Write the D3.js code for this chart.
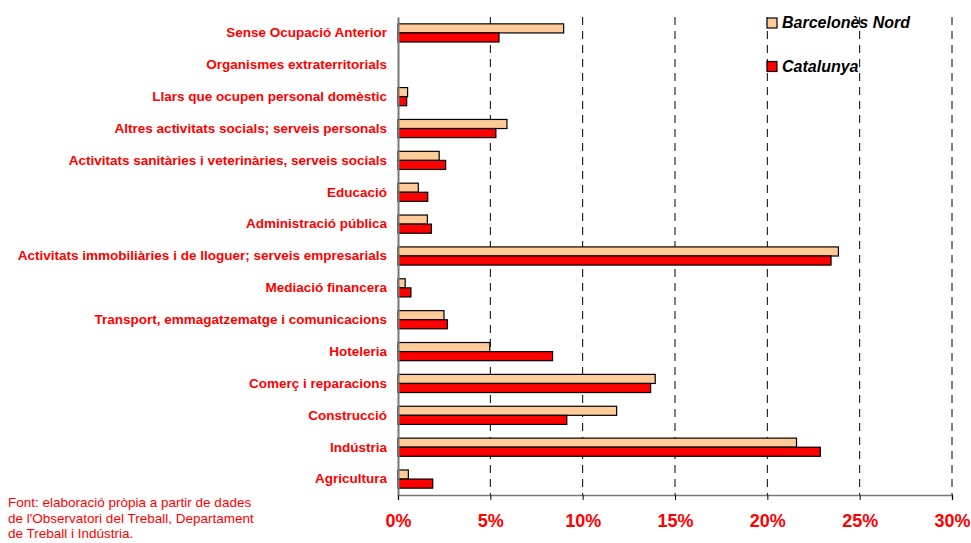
<!DOCTYPE html>
<html>
<head>
<meta charset="utf-8">
<script src="https://cdn.jsdelivr.net/npm/d3@7"></script>
<style>
  body { margin: 0; background: #fff; }
  svg { display: block; font-family: Arial, "Liberation Sans", sans-serif; }
</style>
</head>
<body>
<script>
// categories from top to bottom
var sectors = [
  "Sense Ocupació Anterior",
  "Organismes extraterritorials",
  "Llars que ocupen personal domèstic",
  "Altres activitats socials; serveis personals",
  "Activitats sanitàries i veterinàries, serveis socials",
  "Educació",
  "Administració pública",
  "Activitats immobiliàries i de lloguer; serveis empresarials",
  "Mediació financera",
  "Transport, emmagatzematge i comunicacions",
  "Hoteleria",
  "Comerç i reparacions",
  "Construcció",
  "Indústria",
  "Agricultura"
];

// % share per sector
var barcelonesNord = [8.97, 0, 0.52, 5.9, 2.23, 1.1, 1.59, 23.85, 0.39, 2.49, 4.97, 13.93, 11.84, 21.58, 0.56];
var catalunya      = [5.47, 0, 0.47, 5.3, 2.58, 1.61, 1.81, 23.45, 0.7, 2.67, 8.37, 13.68, 9.14, 22.87, 1.88];

var seriesNames = ["Barcelonès Nord", "Catalunya"];
var xTicks = [0, 5, 10, 15, 20, 25, 30];

var noteLines = [
  "Font: elaboració pròpia a partir de dades",
  "de l'Observatori del Treball, Departament",
  "de Treball i Indústria."
];

function draw() {
  var width = 971, height = 543;
  var left = 398, right = 952, top = 17, bottom = 495;
  var colors = ["#ffcc99", "#ff0000"];

  var svg = d3.select("body").append("svg")
      .attr("width", width)
      .attr("height", height);

  var xScale = d3.scaleLinear().domain([0, 30]).range([left, right]);
  var yScale = d3.scaleBand().domain(sectors).range([top, bottom]).paddingInner(0.43).paddingOuter(0.215);
  var sub = d3.scaleBand().domain(seriesNames).range([0, yScale.bandwidth()]);

  // dashed gridlines
  svg.append("g")
    .selectAll("line")
    .data(xTicks.slice(1))
    .enter()
    .append("line")
      .attr("x1", d => xScale(d))
      .attr("x2", d => xScale(d))
      .attr("y1", top)
      .attr("y2", bottom)
      .attr("stroke", "#000")
      .attr("stroke-width", 1)
      .attr("stroke-dasharray", "8,6");

  // bars
  var rows = sectors.map((s, i) => ({ s: s, vals: [barcelonesNord[i], catalunya[i]] }));
  var groups = svg.append("g").selectAll("g")
    .data(rows)
    .enter()
    .append("g")
      .attr("transform", d => "translate(0," + yScale(d.s) + ")");

  groups.selectAll("rect")
    .data(d => d.vals.map((v, j) => ({ v: v, name: seriesNames[j], j: j })))
    .enter()
    .filter(d => d.v > 0)
    .append("rect")
      .attr("x", xScale(0))
      .attr("y", d => sub(d.name))
      .attr("width", d => xScale(d.v) - xScale(0))
      .attr("height", sub.bandwidth())
      .attr("fill", d => colors[d.j])
      .attr("stroke", "#000")
      .attr("stroke-width", 1.2);

  // axes
  var xAxis = d3.axisBottom(xScale).tickValues(xTicks).tickFormat(d => d + "%").tickSize(5).tickPadding(14);
  var gx = svg.append("g")
    .attr("transform", "translate(0," + bottom + ")")
    .call(xAxis);
  gx.select(".domain").attr("stroke", "#777").attr("stroke-width", 1.5);
  gx.selectAll(".tick line").attr("stroke", "#000");
  gx.selectAll("text")
    .attr("fill", "#ff0000")
    .style("font-size", "18px")
    .style("font-weight", "bold")
    .style("font-family", "Arial, 'Liberation Sans', sans-serif");

  var yAxis = d3.axisLeft(yScale).tickSize(0).tickPadding(11);
  var gy = svg.append("g")
    .attr("transform", "translate(" + left + ",0)")
    .call(yAxis);
  gy.select(".domain").attr("stroke", "#777").attr("stroke-width", 2);
  gy.selectAll("text")
    .attr("fill", "#ff0000")
    .style("font-size", "13.5px")
    .style("font-weight", "bold")
    .style("font-family", "Arial, 'Liberation Sans', sans-serif");

  // legend
  var legend = svg.append("g").selectAll("g")
    .data(seriesNames)
    .enter()
    .append("g")
      .attr("transform", (d, i) => "translate(767," + (18 + i * 43.5) + ")");
  legend.append("rect")
    .attr("width", 10)
    .attr("height", 10)
    .attr("fill", (d, i) => colors[i])
    .attr("stroke", "#000")
    .attr("stroke-width", 1.2);
  legend.append("text")
    .attr("x", 15)
    .attr("y", 10)
    .style("font-size", "16px")
    .style("font-weight", "bold")
    .style("font-style", "italic")
    .attr("fill", "#000")
    .text(d => d);

  // source note
  svg.append("g").selectAll("text")
    .data(noteLines)
    .enter()
    .append("text")
      .attr("x", 8)
      .attr("y", (d, i) => 507 + i * 15.5)
      .attr("fill", "#ff0000")
      .style("font-size", "13.5px")
      .text(d => d);
}

draw();
</script>
</body>
</html>
